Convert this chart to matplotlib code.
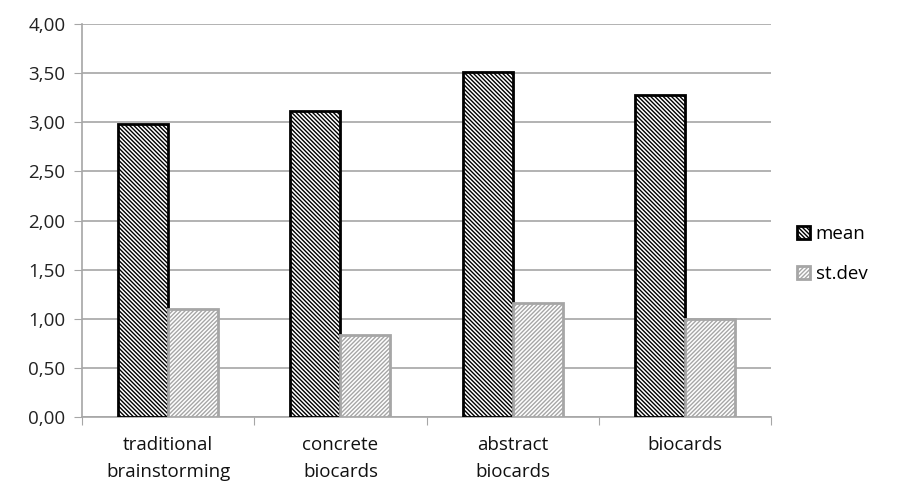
import numpy as np
import matplotlib.pyplot as plt

# data
categories = ['traditional\nbrainstorming', 'concrete\nbiocards', 'abstract\nbiocards', 'biocards']
mean_vals = [2.98, 3.11, 3.51, 3.28]
std_vals = [1.10, 0.83, 1.16, 1.00]

plt.rcParams['font.family'] = ['Open Sans', 'DejaVu Sans']
plt.rcParams['hatch.linewidth'] = 1.0

fig = plt.figure(figsize=(8.97, 4.87), dpi=100)
ax = fig.add_axes([82 / 897, 70 / 487, 689 / 897, 393 / 487])

x = np.arange(len(categories))
w = 0.29
ax.bar(x - w / 2, mean_vals, w, facecolor='white', edgecolor='black',
       hatch='\\' * 8, linewidth=2, label='mean', zorder=3)
ax.bar(x + w / 2, std_vals, w, facecolor='white', edgecolor='#a6a6a6',
       hatch='/' * 8, linewidth=2, label='st.dev', zorder=3)

ax.set_ylim(0, 4)
ax.set_xlim(-0.5, len(categories) - 0.5)
yt = np.arange(0, 4.01, 0.5)
ax.set_yticks(yt)
ax.set_yticklabels([('%.2f' % v).replace('.', ',') for v in yt],
                   fontsize=13.5, color='#222222')
ax.yaxis.grid(True, color='#a6a6a6', linewidth=1.2, zorder=0)

# category labels between boundary ticks
ax.set_xticks(np.arange(-0.5, len(categories)), minor=False)
ax.set_xticklabels([])
ax.set_xticks(x, minor=True)
ax.set_xticklabels(categories, minor=True, fontsize=13.5, color='#111111', linespacing=1.6)
ax.tick_params(axis='x', which='minor', length=0, pad=14)
ax.tick_params(axis='x', which='major', length=6, color='#a6a6a6', direction='out')
ax.tick_params(axis='y', length=6, color='#a6a6a6', direction='out', pad=6)

for s in ['top', 'right']:
    ax.spines[s].set_visible(False)
for s in ['left', 'bottom']:
    ax.spines[s].set_color('#a6a6a6')
    ax.spines[s].set_linewidth(1.2)

leg = fig.legend(loc='center left', bbox_to_anchor=(780 / 897, 1 - 254 / 487),
                 frameon=False, fontsize=13.5, handlelength=0.7, handleheight=0.7,
                 handletextpad=0.3, labelspacing=1.2)

fig.savefig('out.png', dpi=100)
